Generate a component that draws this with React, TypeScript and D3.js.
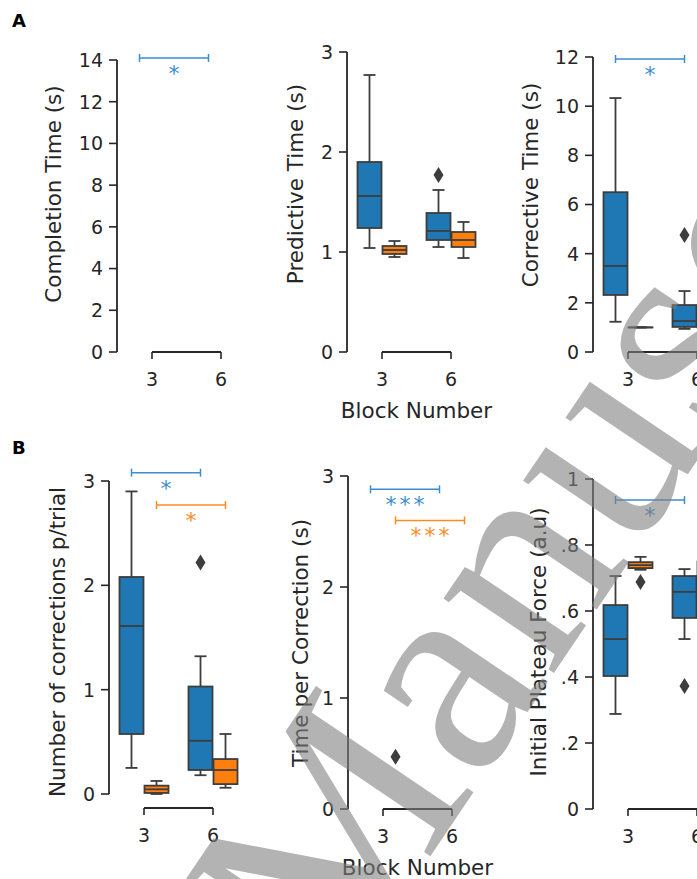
import { useRef, useEffect } from "react"
import * as d3 from "d3"

// block numbers on the x axis, two hue groups per block
const blocks = ["3", "6"]
const groups = ["g1", "g2"]
const groupColors = ["#1f77b4", "#ff7f0e"]
const sigColors = ["#3a8dd0", "#ff8a24"]

// box stats: [whiskerLow, q1, median, q3, whiskerHigh], per group then per block
const completionStats: number[][][] = [[], []]
const predictiveStats = [
  [[1.04, 1.24, 1.56, 1.9, 2.77], [1.05, 1.12, 1.21, 1.39, 1.62]],
  [[0.95, 0.98, 1.02, 1.06, 1.11], [0.94, 1.05, 1.12, 1.2, 1.3]],
]
const correctiveStats = [
  [[1.23, 2.32, 3.5, 6.5, 10.33], [0.94, 1.02, 1.26, 1.91, 2.48]],
  [[1.0, 1.0, 1.0, 1.0, 1.0], [0.9, 1.0, 1.1, 1.3, 1.6]],
]
const correctionsStats = [
  [[0.25, 0.575, 1.61, 2.08, 2.9], [0.18, 0.23, 0.51, 1.03, 1.32]],
  [[0.0, 0.01, 0.045, 0.08, 0.125], [0.06, 0.095, 0.23, 0.335, 0.575]],
]
const timePerCorrectionStats: number[][][] = [[], []]
const plateauStats = [
  [[0.288, 0.403, 0.515, 0.618, 0.706], [0.515, 0.579, 0.658, 0.706, 0.727]],
  [[0.725, 0.73, 0.739, 0.748, 0.764], [0.55, 0.58, 0.66, 0.75, 0.8]],
]

// outliers: [group index, block, value]
const predictiveOutliers: [number, string, number][] = [[0, "6", 1.77]]
const correctiveOutliers: [number, string, number][] = [[0, "6", 4.76]]
const correctionsOutliers: [number, string, number][] = [[0, "6", 2.22]]
const timePerCorrectionOutliers: [number, string, number][] = [[1, "3", 0.47]]
const plateauOutliers: [number, string, number][] = [
  [1, "3", 0.688],
  [0, "6", 0.373],
]

// significance bars: [group index, height, stars]
const completionSig: [number, number, string][] = [[0, 14.1, "*"]]
const correctiveSig: [number, number, string][] = [[0, 11.92, "*"]]
const correctionsSig: [number, number, string][] = [
  [0, 3.08, "*"],
  [1, 2.77, "*"],
]
const timePerCorrectionSig: [number, number, string][] = [
  [0, 2.88, "***"],
  [1, 2.6, "***"],
]
const plateauSig: [number, number, string][] = [[0, 0.936, "*"]]

const completionTicks = [0, 2, 4, 6, 8, 10, 12, 14]
const predictiveTicks = [0, 1, 2, 3]
const correctiveTicks = [0, 2, 4, 6, 8, 10, 12]
const correctionsTicks = [0, 1, 2, 3]
const timePerCorrectionTicks = [0, 1, 2, 3]
const plateauTicks = [0, 0.2, 0.4, 0.6, 0.8, 1]
const plateauTickLabels = ["0", ".2", ".4", ".6", ".8", "1"]

const panels = [
  { label: "Completion Time (s)", stats: completionStats, outliers: [] as [number, string, number][], sig: completionSig, ticks: completionTicks, tickLabels: null as string[] | null,
    axisX: 117, y0: 352, yTop: 60, bottom: 352, labelX: 53, labelY: 194, xLabel: false },
  { label: "Predictive Time (s)", stats: predictiveStats, outliers: predictiveOutliers, sig: [] as [number, number, string][], ticks: predictiveTicks, tickLabels: null,
    axisX: 347, y0: 352, yTop: 52, bottom: 352, labelX: 295, labelY: 184, xLabel: true },
  { label: "Corrective Time (s)", stats: correctiveStats, outliers: correctiveOutliers, sig: correctiveSig, ticks: correctiveTicks, tickLabels: null,
    axisX: 593, y0: 352, yTop: 57, bottom: 352, labelX: 530, labelY: 185, xLabel: false },
  { label: "Number of corrections p/trial", stats: correctionsStats, outliers: correctionsOutliers, sig: correctionsSig, ticks: correctionsTicks, tickLabels: null,
    axisX: 109, y0: 794, yTop: 481, bottom: 808, labelX: 57, labelY: 642, xLabel: false },
  { label: "Time per Correction (s)", stats: timePerCorrectionStats, outliers: timePerCorrectionOutliers, sig: timePerCorrectionSig, ticks: timePerCorrectionTicks, tickLabels: null,
    axisX: 348, y0: 809, yTop: 476, bottom: 809, labelX: 300, labelY: 643, xLabel: true },
  { label: "Initial Plateau Force (a.u)", stats: plateauStats, outliers: plateauOutliers, sig: plateauSig, ticks: plateauTicks, tickLabels: plateauTickLabels,
    axisX: 593, y0: 809, yTop: 479, bottom: 809, labelX: 538, labelY: 642, xLabel: false },
]

export default function App() {
  const svgRef = useRef<SVGSVGElement>(null)

  function drawChart() {
    const width = 697
    const height = 879
    const font = "'DejaVu Sans', sans-serif"
    const ink = "#262626"
    const edge = "#3d3d3d"
    const boxW = 24
    const capW = 12

    document.body.style.margin = "0"
    const svg = d3.select(svgRef.current).attr("width", width).attr("height", height)
    svg.selectAll("*").remove()
    svg.append("rect").attr("width", width).attr("height", height).attr("fill", "#fff")

    panels.forEach((p) => {
      const g = svg.append("g")
      const x = d3.scalePoint<string>().domain(blocks).range([p.axisX + 35, p.axisX + 104])
      const yMax = p.ticks[p.ticks.length - 1]
      const y = d3.scaleLinear().domain([0, yMax]).range([p.y0, p.yTop])
      const offset = (gi: number) => (gi === 0 ? -boxW / 2 - 0.5 : boxW / 2 + 0.5)

      // left spine + ticks
      g.append("line")
        .attr("x1", p.axisX).attr("x2", p.axisX)
        .attr("y1", y(0)).attr("y2", y(yMax))
        .attr("stroke", ink).attr("stroke-width", 1.8)
      p.ticks.forEach((t, i) => {
        g.append("line")
          .attr("x1", p.axisX - 8).attr("x2", p.axisX)
          .attr("y1", y(t)).attr("y2", y(t))
          .attr("stroke", ink).attr("stroke-width", 1.6)
        g.append("text")
          .text(p.tickLabels ? p.tickLabels[i] : String(t))
          .attr("x", p.axisX - 14).attr("y", y(t))
          .attr("dy", "0.36em")
          .attr("text-anchor", "end")
          .style("font-size", "19px").style("font-family", font).attr("fill", ink)
      })

      // bottom bracket
      g.append("line")
        .attr("x1", x("3")!).attr("x2", x("6")!)
        .attr("y1", p.bottom).attr("y2", p.bottom)
        .attr("stroke", ink).attr("stroke-width", 1.8)
      blocks.forEach((b) => {
        g.append("line")
          .attr("x1", x(b)!).attr("x2", x(b)!)
          .attr("y1", p.bottom).attr("y2", p.bottom + 7)
          .attr("stroke", ink).attr("stroke-width", 1.6)
        g.append("text")
          .text(b)
          .attr("x", x(b)!).attr("y", p.bottom + 34)
          .attr("text-anchor", "middle")
          .style("font-size", "19px").style("font-family", font).attr("fill", ink)
      })

      // y label
      g.append("text")
        .text(p.label)
        .attr("transform", `translate(${p.labelX}, ${p.labelY}) rotate(-90)`)
        .attr("dy", "0.36em")
        .attr("text-anchor", "middle")
        .style("font-size", "21.5px").style("font-family", font).attr("fill", ink)

      if (p.xLabel) {
        g.append("text")
          .text("Block Number")
          .attr("x", (x("3")! + x("6")!) / 2).attr("y", p.bottom + 66)
          .attr("text-anchor", "middle")
          .style("font-size", "21.5px").style("font-family", font).attr("fill", ink)
      }

      // boxes
      p.stats.forEach((series, gi) => {
        series.forEach((s, bi) => {
          const cx = x(blocks[bi])! + offset(gi)
          const [lo, q1, med, q3, hi] = s
          const bx = g.append("g")
          bx.append("line").attr("x1", cx).attr("x2", cx).attr("y1", y(q3)).attr("y2", y(hi))
            .attr("stroke", edge).attr("stroke-width", 1.8)
          bx.append("line").attr("x1", cx).attr("x2", cx).attr("y1", y(q1)).attr("y2", y(lo))
            .attr("stroke", edge).attr("stroke-width", 1.8)
          ;[lo, hi].forEach((v) => {
            bx.append("line").attr("x1", cx - capW / 2).attr("x2", cx + capW / 2)
              .attr("y1", y(v)).attr("y2", y(v))
              .attr("stroke", edge).attr("stroke-width", 1.8)
          })
          bx.append("rect")
            .attr("x", cx - boxW / 2).attr("y", y(q3))
            .attr("width", boxW).attr("height", Math.max(0.01, y(q1) - y(q3)))
            .attr("fill", groupColors[gi]).attr("stroke", edge).attr("stroke-width", 1.8)
          bx.append("line").attr("x1", cx - boxW / 2).attr("x2", cx + boxW / 2)
            .attr("y1", y(med)).attr("y2", y(med))
            .attr("stroke", edge).attr("stroke-width", 1.8)
        })
      })

      // outliers (thin diamonds)
      p.outliers.forEach(([gi, b, v]) => {
        const cx = x(b)! + offset(gi)
        const cy = y(v)
        g.append("path")
          .attr("d", `M${cx},${cy - 8} L${cx + 5},${cy} L${cx},${cy + 8} L${cx - 5},${cy} Z`)
          .attr("fill", edge)
      })

      // significance bars
      p.sig.forEach(([gi, v, stars]) => {
        const x1 = x("3")! + offset(gi)
        const x2 = x("6")! + offset(gi)
        const yy = y(v)
        const sg = g.append("g").attr("stroke", sigColors[gi]).attr("stroke-width", 1.5)
        sg.append("line").attr("x1", x1).attr("x2", x2).attr("y1", yy).attr("y2", yy)
        sg.append("line").attr("x1", x1).attr("x2", x1).attr("y1", yy - 4).attr("y2", yy + 4)
        sg.append("line").attr("x1", x2).attr("x2", x2).attr("y1", yy - 4).attr("y2", yy + 4)
        g.append("text")
          .text(stars)
          .attr("x", (x1 + x2) / 2 + (stars.length > 1 ? 1.5 : 0)).attr("y", yy + 23)
          .attr("text-anchor", "middle")
          .style("letter-spacing", stars.length > 1 ? "3px" : "0px")
          .style("font-size", "22px").style("font-family", font).attr("fill", sigColors[gi])
      })
    })

    // panel letters
    svg.append("text").text("A").attr("x", 12).attr("y", 27)
      .style("font-size", "18px").style("font-weight", "bold").style("font-family", font).attr("fill", "#000")
    svg.append("text").text("B").attr("x", 12).attr("y", 454)
      .style("font-size", "18px").style("font-weight", "bold").style("font-family", font).attr("fill", "#000")

    // watermark
    svg.append("text")
      .text("Manuscript")
      .attr("transform", "translate(334, 999) rotate(-56)")
      .style("font-size", "290px").style("font-family", "'Liberation Serif', serif")
      .attr("fill", "#808080").attr("fill-opacity", 0.6)
  }

  useEffect(() => {
    drawChart()
  }, [svgRef])

  return (
    <div>
      <svg ref={svgRef} style={{ display: "block" }}></svg>
    </div>
  )
}
